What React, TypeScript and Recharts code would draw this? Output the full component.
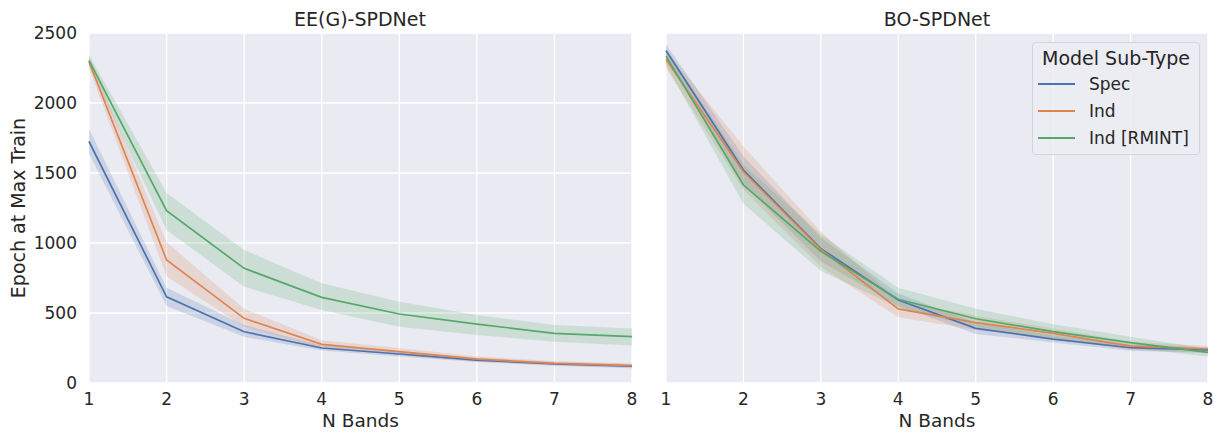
import { ComposedChart, Line, Area, XAxis, YAxis, CartesianGrid } from "recharts"

const nBands = [1, 2, 3, 4, 5, 6, 7, 8]
const yTicks = [0, 500, 1000, 1500, 2000, 2500]

// EE(G)-SPDNet
const eeSpec = [1725, 615, 366, 250, 207, 164, 136, 121]
const eeSpecLo = [1640, 550, 330, 232, 190, 150, 124, 106]
const eeSpecHi = [1815, 680, 414, 268, 226, 180, 150, 135]
const eeInd = [2295, 879, 462, 276, 224, 171, 140, 124]
const eeIndLo = [2250, 760, 402, 250, 200, 152, 125, 110]
const eeIndHi = [2335, 1005, 530, 305, 250, 190, 157, 140]
const eeRm = [2305, 1231, 819, 612, 493, 421, 355, 331]
const eeRmLo = [2260, 1093, 688, 521, 402, 343, 295, 267]
const eeRmHi = [2345, 1357, 950, 712, 581, 486, 414, 390]

// BO-SPDNet
const boSpec = [2375, 1521, 960, 593, 390, 314, 252, 236]
const boSpecLo = [2330, 1420, 870, 550, 350, 290, 230, 215]
const boSpecHi = [2420, 1620, 1040, 640, 430, 340, 275, 255]
const boInd = [2310, 1509, 955, 529, 431, 355, 264, 243]
const boIndLo = [2250, 1380, 830, 470, 380, 320, 235, 220]
const boIndHi = [2380, 1690, 1080, 590, 480, 390, 295, 265]
const boRm = [2335, 1414, 940, 598, 459, 367, 288, 219]
const boRmLo = [2270, 1280, 800, 540, 400, 320, 250, 190]
const boRmHi = [2380, 1560, 1060, 680, 530, 420, 330, 245]

const BLUE = "#4c72b0"
const ORANGE = "#dd8452"
const GREEN = "#55a868"
const TEXT = "#262626"
const FONT = "'DejaVu Sans', sans-serif"

function build(
  spec: number[], specLo: number[], specHi: number[],
  ind: number[], indLo: number[], indHi: number[],
  rm: number[], rmLo: number[], rmHi: number[]
) {
  return nBands.map((n, i) => ({
    n,
    spec: spec[i],
    specBand: [specLo[i], specHi[i]],
    ind: ind[i],
    indBand: [indLo[i], indHi[i]],
    rm: rm[i],
    rmBand: [rmLo[i], rmHi[i]],
  }))
}

const eeData = build(eeSpec, eeSpecLo, eeSpecHi, eeInd, eeIndLo, eeIndHi, eeRm, eeRmLo, eeRmHi)
const boData = build(boSpec, boSpecLo, boSpecHi, boInd, boIndLo, boIndHi, boRm, boRmLo, boRmHi)

const series = [
  { key: "spec", name: "Spec", color: BLUE },
  { key: "ind", name: "Ind", color: ORANGE },
  { key: "rm", name: "Ind [RMINT]", color: GREEN },
]

function Panel({ data, showY, width, marginLeft }: { data: any[]; showY: boolean; width: number; marginLeft: number }) {
  return (
    <ComposedChart
      width={width}
      height={432}
      data={data}
      margin={{ top: 33, right: 6, bottom: 0, left: marginLeft }}
      style={{ fontFamily: FONT }}
    >
      <CartesianGrid stroke="#ffffff" strokeWidth={1.3} fill="#eaeaf2" fillOpacity={1} />
      <XAxis
        dataKey="n"
        type="number"
        domain={[1, 8]}
        ticks={nBands}
        axisLine={false}
        tickLine={false}
        tickSize={6}
        tickMargin={4}
        height={49}
        tick={{ fill: TEXT, fontSize: 17 }}
        label={{ value: "N Bands", position: "insideBottom", offset: 5, fill: TEXT, fontSize: 18.5 }}
      />
      <YAxis
        type="number"
        domain={[0, 2500]}
        ticks={yTicks}
        axisLine={false}
        tickLine={false}
        tickSize={6}
        tickMargin={6}
        width={showY ? 89 : 0}
        tick={showY ? { fill: TEXT, fontSize: 17 } : false}
      />
      {series.map((s) => (
        <Area
          key={s.key + "band"}
          dataKey={s.key + "Band"}
          stroke="none"
          fill={s.color}
          fillOpacity={0.2}
          type="linear"
          isAnimationActive={false}
        />
      ))}
      {series.map((s) => (
        <Line
          key={s.key}
          dataKey={s.key}
          stroke={s.color}
          strokeWidth={1.7}
          dot={false}
          type="linear"
          isAnimationActive={false}
        />
      ))}
    </ComposedChart>
  )
}

export default function App() {
  return (
    <div style={{ position: "absolute", left: 0, top: 0, width: 1214, height: 432, background: "#fff", fontFamily: FONT, color: TEXT }}>
      <div style={{ position: "absolute", left: 0, top: 0 }}>
        <Panel data={eeData} showY={true} width={638} marginLeft={0} />
      </div>
      <div style={{ position: "absolute", left: 600, top: 0 }}>
        <Panel data={boData} showY={false} width={614} marginLeft={66} />
      </div>
      <div style={{ position: "absolute", left: 160, top: 9, width: 400, textAlign: "center", fontSize: 19, lineHeight: "20px" }}>
        EE(G)-SPDNet
      </div>
      <div style={{ position: "absolute", left: 737, top: 9, width: 400, textAlign: "center", fontSize: 19, lineHeight: "20px" }}>
        BO-SPDNet
      </div>
      <div
        style={{
          position: "absolute",
          left: 18 - 150,
          top: 208 - 10,
          width: 300,
          textAlign: "center",
          fontSize: 19,
          lineHeight: "20px",
          transform: "rotate(-90deg)",
        }}
      >
        Epoch at Max Train
      </div>
      <div
        style={{
          position: "absolute",
          left: 1032,
          top: 42,
          width: 166,
          height: 111,
          background: "rgba(236,236,243,0.85)",
          border: "1px solid #d4d4dc",
          borderRadius: 4,
        }}
      >
        <div style={{ textAlign: "center", fontSize: 19, lineHeight: "20px", marginTop: 5 }}>Model Sub-Type</div>
        {series.map((s, i) => (
          <div key={s.key} style={{ position: "absolute", left: 0, top: 31 + i * 27, height: 20, display: "flex", alignItems: "center" }}>
            <div style={{ marginLeft: 5, width: 37, height: 2, background: s.color }} />
            <div style={{ marginLeft: 14, fontSize: 17, lineHeight: "20px", whiteSpace: "nowrap" }}>{s.name}</div>
          </div>
        ))}
      </div>
    </div>
  )
}
